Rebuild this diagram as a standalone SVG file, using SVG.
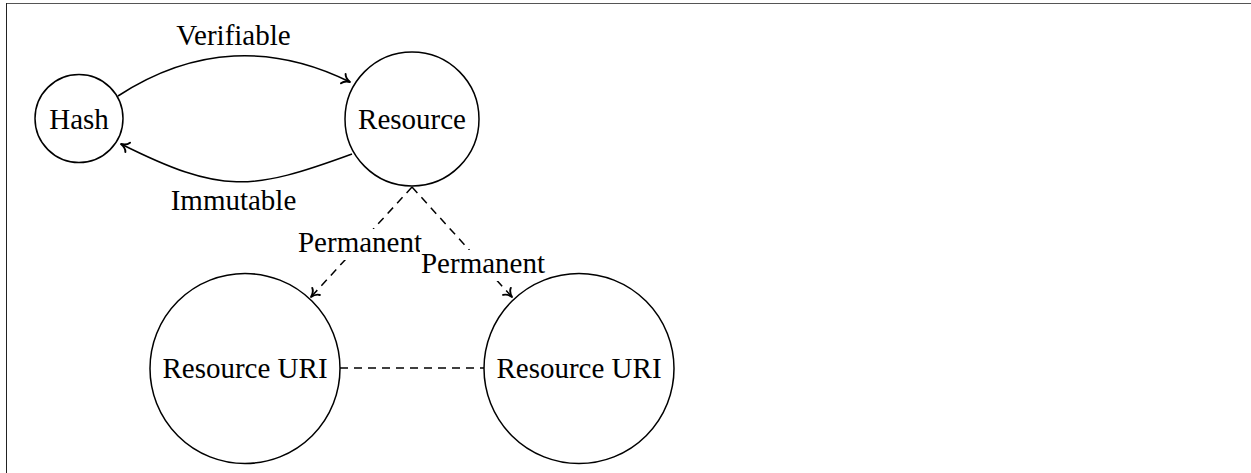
<svg xmlns="http://www.w3.org/2000/svg" width="1251" height="473" viewBox="0 0 1251 473">
  <defs>
    <style>
      .node { fill: #ffffff; stroke: #000000; stroke-width: 1.5; }
      .lbl { font-family: 'Liberation Serif', 'Tinos', 'Times New Roman', 'DejaVu Serif', serif; font-size: 29px; fill: #000000; text-anchor: middle; }
      .edge { fill: none; stroke: #000000; stroke-width: 1.5; }
      .dash { stroke-dasharray: 8 6; }
      .bg { fill: #ffffff; stroke: none; }
    </style>
    <marker id="arr" markerUnits="userSpaceOnUse" markerWidth="16" markerHeight="16" viewBox="-9 -8 11 16" refX="0" refY="0" orient="auto">
      <path d="M -7.5,-5.2 C -6,-2 -2.3,-0.5 0,0 C -2.3,0.5 -6,2 -7.5,5.2" fill="none" stroke="#000000" stroke-width="1.9" stroke-linecap="round" stroke-linejoin="round"/>
    </marker>
  </defs>

  <rect width="1251" height="473" fill="#ffffff"/>
  <g id="frame">
    <line x1="6" y1="3.5" x2="1251" y2="3.5" stroke="#555555" stroke-width="1"/>
    <line x1="6.5" y1="3" x2="6.5" y2="473" stroke="#222222" stroke-width="1"/>
  </g>

  <g id="connectors">
    <path class="edge" d="M 118,96 C 194.5,46 273.5,44 350,82" marker-end="url(#arr)"/>
    <path class="edge" d="M 352,154 C 251,191 222,194.5 121,144" marker-end="url(#arr)"/>
    <path class="edge dash" d="M 412,187 L 311,297" marker-end="url(#arr)"/>
    <path class="edge dash" d="M 412,187 L 512,297" marker-end="url(#arr)"/>
    <path class="edge dash" d="M 340,368 L 484,368"/>
    <g id="edge-labels">
      <text class="lbl" x="233.5" y="45" font-family="Liberation Serif, serif">Verifiable</text>
      <text class="lbl" x="233.5" y="210" font-family="Liberation Serif, serif">Immutable</text>
      <rect class="bg" x="297" y="229" width="126" height="31"/>
      <text class="lbl" x="360" y="252" font-family="Liberation Serif, serif">Permanent</text>
      <rect class="bg" x="420" y="250" width="126" height="31"/>
      <text class="lbl" x="483" y="273" font-family="Liberation Serif, serif">Permanent</text>
    </g>
  </g>

  <g id="node-hash">
    <circle class="node" cx="79" cy="118.5" r="44"/>
    <text class="lbl" x="79" y="128.5" font-family="Liberation Serif, serif">Hash</text>
  </g>
  <g id="node-resource">
    <circle class="node" cx="412" cy="119" r="67"/>
    <text class="lbl" x="412" y="129" font-family="Liberation Serif, serif">Resource</text>
  </g>
  <g id="node-uri-left">
    <circle class="node" cx="245" cy="368.5" r="95"/>
    <text class="lbl" x="245" y="378" font-family="Liberation Serif, serif">Resource URI</text>
  </g>
  <g id="node-uri-right">
    <circle class="node" cx="579" cy="368.5" r="95"/>
    <text class="lbl" x="579" y="378" font-family="Liberation Serif, serif">Resource URI</text>
  </g>
</svg>
